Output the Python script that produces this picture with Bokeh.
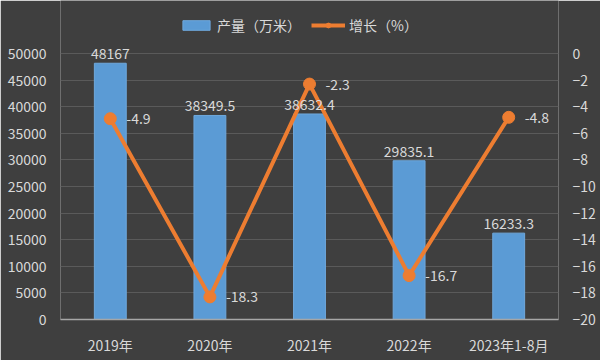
from bokeh.plotting import figure
from bokeh.models import (FactorRange, Range1d, LinearAxis, ColumnDataSource, Legend, LegendItem,
                          LabelSet, FixedTicker)
from bokeh.embed import file_html
from bokeh.resources import INLINE
from bokeh.core.properties import value

categories = ["2019年", "2020年", "2021年", "2022年", "2023年1-8月"]
output = [48167, 38349.5, 38632.4, 29835.1, 16233.3]
growth = [-4.9, -18.3, -2.3, -16.7, -4.8]
output_labels = ["48167", "38349.5", "38632.4", "29835.1", "16233.3"]
growth_labels = ["-4.9", "-18.3", "-2.3", "-16.7", "-4.8"]
left_ticks = [0, 5000, 10000, 15000, 20000, 25000, 30000, 35000, 40000, 45000, 50000]
right_ticks = [-20, -18, -16, -14, -12, -10, -8, -6, -4, -2, 0]

FONT = "Noto Sans CJK SC"
TXT = "#d9d9d9"
BG = "#3f3f3f"
FS = "14px"

src = ColumnDataSource(dict(cat=categories, out=output, gr=growth,
                            outl=output_labels, grl=growth_labels))

p = figure(width=600, height=360, x_range=FactorRange(*categories, range_padding=0),
           y_range=Range1d(0, 59962), output_backend="svg", toolbar_location=None,
           min_border_left=60, min_border_right=42, min_border_top=0, min_border_bottom=41)
p.background_fill_color = BG
p.border_fill_color = BG
p.outline_line_color = None
p.extra_y_ranges = {"g": Range1d(-20, 3.985)}

bars = p.vbar(x="cat", top="out", width=0.32, source=src, fill_color="#5b9bd5",
              line_color="#6fa8dc", line_width=1)
ln = p.line(x="cat", y="gr", source=src, y_range_name="g", line_color="#ed7d31", line_width=4)
pts = p.scatter(x="cat", y="gr", source=src, y_range_name="g", size=12,
                fill_color="#ed7d31", line_color="#ed7d31")

p.add_layout(LabelSet(x="cat", y="out", text="outl", source=src, text_align="center",
                      text_baseline="bottom", y_offset=4, text_color=TXT, text_font_size=FS,
                      text_font=value(FONT)))
p.add_layout(LabelSet(x="cat", y="gr", text="grl", source=src, y_range_name="g", text_align="left",
                      text_baseline="middle", x_offset=16, text_color=TXT, text_font_size=FS,
                      text_font=value(FONT)))

ya = p.yaxis[0]
ya.ticker = FixedTicker(ticks=left_ticks)
ya.axis_line_color = None
ya.major_tick_line_color = None
ya.minor_tick_line_color = None
ya.major_label_text_color = TXT
ya.major_label_text_font_size = FS
ya.major_label_text_font = FONT
ya.major_label_standoff = 8

ra = LinearAxis(y_range_name="g", ticker=FixedTicker(ticks=right_ticks))
ra.axis_line_color = None
ra.major_tick_line_color = None
ra.minor_tick_line_color = None
ra.major_label_text_color = TXT
ra.major_label_text_font_size = FS
ra.major_label_text_font = FONT
ra.major_label_standoff = 8
p.add_layout(ra, "right")

xa = p.xaxis[0]
xa.axis_line_color = "#a6a6a6"
xa.axis_line_width = 1.5
xa.major_tick_line_color = None
xa.minor_tick_line_color = None
xa.major_label_text_color = TXT
xa.major_label_text_font_size = FS
xa.major_label_text_font = FONT
xa.major_label_standoff = 9

p.xgrid.grid_line_color = None
p.ygrid.grid_line_color = "#5a5a5a"
p.ygrid.grid_line_width = 1
p.ygrid.ticker = FixedTicker(ticks=left_ticks)

legend = Legend(items=[LegendItem(label="产量（万米）", renderers=[bars]),
                       LegendItem(label="增长（%）", renderers=[ln, pts])],
                orientation="horizontal", location=(119, 284),
                background_fill_alpha=0, border_line_color=None,
                label_text_color=TXT, label_text_font_size=FS, label_text_font=FONT,
                glyph_width=34, glyph_height=12, spacing=10, padding=0, margin=0,
                label_standoff=4)
p.add_layout(legend, "center")

open("out.html", "w").write(file_html(p, INLINE))
